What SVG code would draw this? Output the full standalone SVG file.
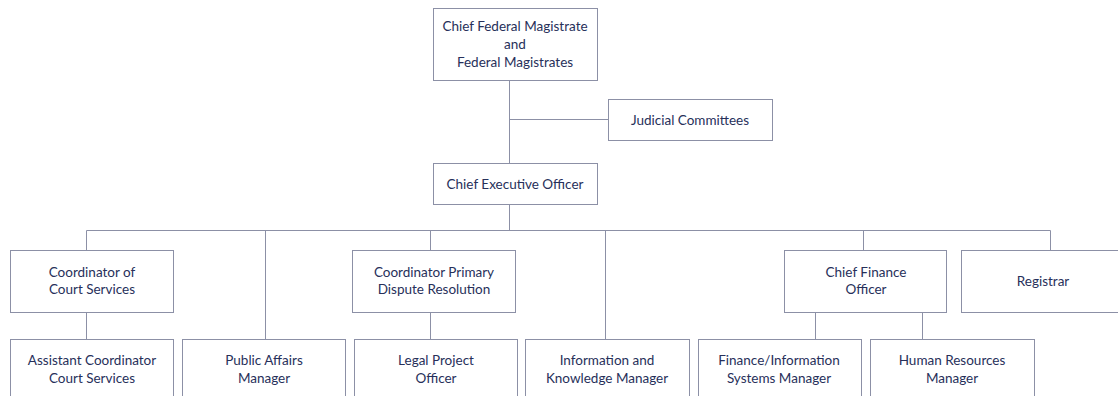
<svg xmlns="http://www.w3.org/2000/svg" width="1118" height="396" viewBox="0 0 1118 396">
<style>
.box{fill:#fff;stroke:#8c90a6;stroke-width:1}
.ln{stroke:#8c90a6;stroke-width:1;fill:none}
text{font-family:Lato,"Liberation Sans",sans-serif;font-size:13.5px;fill:#27305a;text-anchor:middle;dominant-baseline:central}
</style>
<rect width="1118" height="396" fill="#fff"/>
<g id="connectors">
<path class="ln" d="M509.5 81V163M509.5 119.5H608M509.5 204V230.5M86.5 230.5H1050.5M86.5 230.5V250M265.5 230.5V339M430.5 230.5V250M605.5 230.5V339M863.5 230.5V250M1050.5 230.5V250M86.5 312V339M430.5 312V339M815.5 312V339M922.5 312V339"/>
</g>
<g id="n-cfm"><rect class="box" x="433.5" y="8.5" width="164" height="72"/><text x="515" y="26">Chief Federal Magistrate</text><text x="515" y="44">and</text><text x="515" y="62">Federal Magistrates</text></g>
<g id="n-jc"><rect class="box" x="608.5" y="99.5" width="164" height="41"/><text x="690" y="120">Judicial Committees</text></g>
<g id="n-ceo"><rect class="box" x="433.5" y="163.5" width="164" height="41"/><text x="515" y="183.5">Chief Executive Officer</text></g>
<g id="n-ccs"><rect class="box" x="10.5" y="250.5" width="163" height="62"/><text x="92" y="272">Coordinator of</text><text x="92" y="289">Court Services</text></g>
<g id="n-cpdr"><rect class="box" x="352.5" y="250.5" width="163" height="62"/><text x="434" y="272">Coordinator Primary</text><text x="434" y="289">Dispute Resolution</text></g>
<g id="n-cfo"><rect class="box" x="784.5" y="250.5" width="162" height="62"/><text x="866" y="272">Chief Finance</text><text x="866" y="289">Officer</text></g>
<g id="n-reg"><rect class="box" x="961.5" y="250.5" width="170" height="62"/><text x="1043" y="280.5">Registrar</text></g>
<g id="n-acs"><rect class="box" x="10.5" y="339.5" width="163" height="70"/><text x="92" y="359.5">Assistant Coordinator</text><text x="92" y="377.5">Court Services</text></g>
<g id="n-pam"><rect class="box" x="182.5" y="339.5" width="163" height="70"/><text x="264" y="359.5">Public Affairs</text><text x="264" y="377.5">Manager</text></g>
<g id="n-lpo"><rect class="box" x="354.5" y="339.5" width="163" height="70"/><text x="436" y="359.5">Legal Project</text><text x="436" y="377.5">Officer</text></g>
<g id="n-ikm"><rect class="box" x="525.5" y="339.5" width="164" height="70"/><text x="607" y="359.5">Information and</text><text x="607" y="377.5">Knowledge Manager</text></g>
<g id="n-fism"><rect class="box" x="698.5" y="339.5" width="163" height="70"/><text x="779" y="359.5">Finance/Information</text><text x="779" y="377.5">Systems Manager</text></g>
<g id="n-hrm"><rect class="box" x="870.5" y="339.5" width="164" height="70"/><text x="952" y="359.5">Human Resources</text><text x="952" y="377.5">Manager</text></g>
</svg>
